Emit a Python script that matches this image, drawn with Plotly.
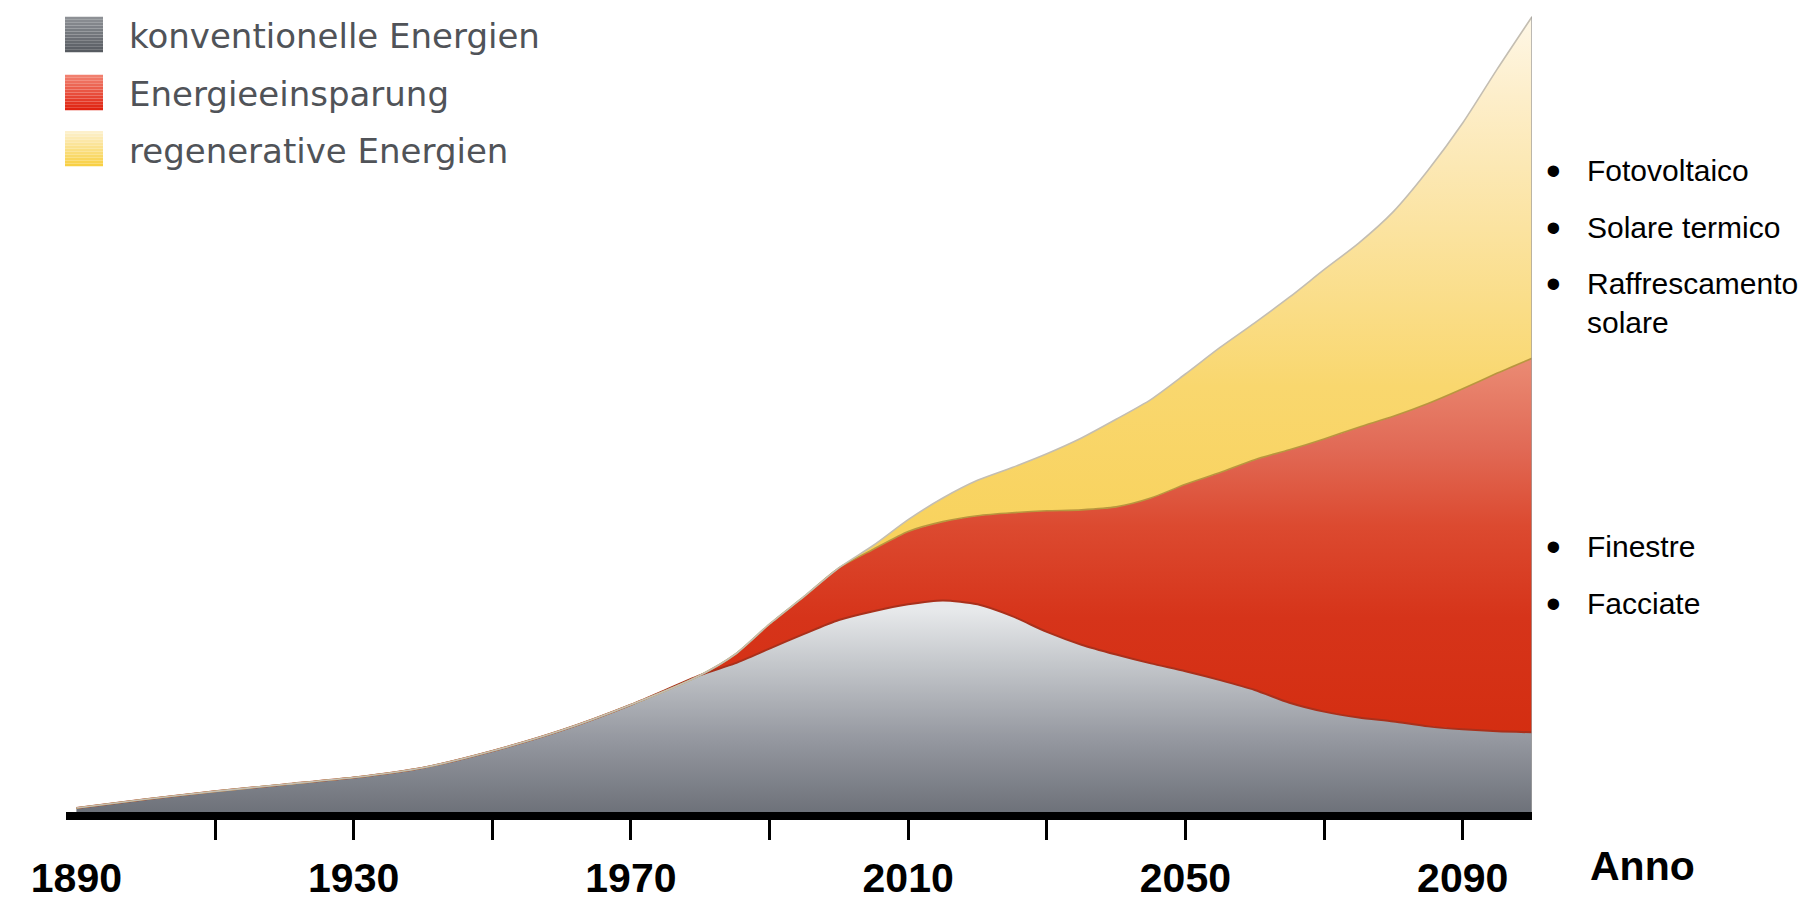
import plotly.graph_objects as go

# ---- data: stacked energy demand (relative units) ----
years = [1890, 1900, 1910, 1920, 1930, 1940, 1950, 1960, 1970, 1980,
         1985, 1990, 1995, 2000, 2005, 2010, 2015, 2020, 2025, 2030,
         2035, 2040, 2045, 2050, 2055, 2060, 2065, 2070, 2075, 2080,
         2085, 2090, 2095, 2100]
konventionell = [4, 13, 21, 28, 35, 45, 62, 83, 109, 139,
                 151, 166, 181, 195, 204, 211, 215, 211, 199, 183,
                 170, 160, 151, 143, 134, 124, 111, 102, 96, 92,
                 87, 84, 82, 81]
einsparung = [0, 0, 0, 0, 0, 0, 0, 0, 0, 0,
              9, 25, 38, 53, 63, 74, 80, 90, 105, 123,
              137, 150, 168, 190, 211, 234, 257, 277, 295, 310,
              328, 346, 364, 380]
regenerativ = [0, 0, 0, 0, 0, 0, 0, 0, 0, 0,
               0, 0, 0, 0, 4, 12, 24, 36, 46, 58,
               73, 89, 100, 112, 127, 139, 155, 172, 187, 208,
               237, 270, 309, 347]

series_names = ["konventionelle Energien", "Energieeinsparung", "regenerative Energien"]

tick_years = [1910, 1930, 1950, 1970, 1990, 2010, 2030, 2050, 2070, 2090]
label_years = [1890, 1930, 1970, 2010, 2050, 2090]
label_text = ["1890", "1930", "1970", "2010", "2050", "2090"]
axis_title = "Anno"

bullets_renewable = ["Fotovoltaico", "Solare termico", "Raffrescamento<br>solare"]
bullets_saving = ["Finestre", "Facciate"]

# ---- page geometry ----
W, H = 1814, 901
L, R, T, B = 66, 282, 0, 76
PW, PH = W - L - R, H - T - B


def px(xp):
    return (xp - L) / PW


def py(yp):
    return (H - B - yp) / PH


gray_scale = [[0.0, "#676b73"], [0.4, "#9598a0"], [0.75, "#c4c7cb"], [1.0, "#e7e9eb"]]
red_scale = [[0.0, "#d2290a"], [0.45, "#d6341a"], [0.65, "#dc4a30"], [0.82, "#e16a56"], [1.0, "#ea8972"]]
yellow_scale = [[0.0, "#f8d25c"], [0.3, "#f9d76e"], [0.6, "#fbe3a0"], [0.85, "#fdeeca"], [1.0, "#fef7e6"]]

totals = [a + b + c for a, b, c in zip(konventionell, einsparung, regenerativ)]
red_tops = [a + b for a, b in zip(konventionell, einsparung)]

fig = go.Figure()

fig.add_trace(go.Scatter(
    x=years, y=konventionell, name=series_names[0], stackgroup="e",
    mode="lines", line=dict(shape="spline", smoothing=0.7, color="#a9301b", width=2),
    fillgradient=dict(type="vertical", start=0, stop=max(konventionell), colorscale=gray_scale),
    hoverinfo="skip"))
fig.add_trace(go.Scatter(
    x=years, y=einsparung, name=series_names[1], stackgroup="e",
    mode="lines", line=dict(shape="spline", smoothing=0.7, color="#b8963e", width=1.6),
    fillgradient=dict(type="vertical", start=0, stop=max(red_tops), colorscale=red_scale),
    hoverinfo="skip"))
fig.add_trace(go.Scatter(
    x=years, y=regenerativ, name=series_names[2], stackgroup="e",
    mode="lines", line=dict(shape="spline", smoothing=0.7, color="#c4beb2", width=1.6),
    fillgradient=dict(type="vertical", start=280, stop=max(totals), colorscale=yellow_scale),
    hoverinfo="skip"))

# soft edge on the right end of the stack
fig.add_trace(go.Scatter(
    x=[years[-1], years[-1]], y=[0, totals[-1]], xaxis="x2", mode="lines",
    line=dict(color="rgba(160,160,160,0.7)", width=2), hoverinfo="skip", showlegend=False))

fig.update_layout(
    width=W, height=H,
    margin=dict(l=L, r=R, t=T, b=B),
    plot_bgcolor="white", paper_bgcolor="white",
    showlegend=False,
    xaxis=dict(
        range=[1888.5, 2100], showgrid=False, zeroline=False,
        showline=True, linewidth=8, linecolor="black",
        tickmode="array", tickvals=tick_years, ticks="outside",
        ticklen=20, tickwidth=2.5, tickcolor="black", showticklabels=False),
    xaxis2=dict(
        overlaying="x", matches="x", anchor="y", side="bottom",
        showgrid=False, zeroline=False, showline=False,
        tickmode="array", tickvals=label_years, ticktext=label_text, ticks="",
        ticklabelstandoff=38,
        tickfont=dict(family="Liberation Sans", size=41, color="black", weight="bold")),
    yaxis=dict(range=[0, PH], visible=False, fixedrange=True),
)

annotations = []
# axis title at the right end of the time axis
annotations.append(dict(
    x=px(1642), y=py(880), xref="paper", yref="paper", text=axis_title,
    showarrow=False, xanchor="center", yanchor="middle",
    font=dict(family="Liberation Sans", size=41, color="black", weight="bold")))

# legend block
swatch_rows = [35, 94, 151]
swatch_cols = [
    ["#8f9297", "#55595f"],
    ["#f28473", "#df1f0c"],
    ["#fdf1d2", "#f8cf3e"],
]
shapes = []


def mix(c1, c2, t):
    a = [int(c1[i:i + 2], 16) for i in (1, 3, 5)]
    b = [int(c2[i:i + 2], 16) for i in (1, 3, 5)]
    return "#" + "".join(f"{round(a[k] + (b[k] - a[k]) * t):02x}" for k in range(3))


for row, (ctop, cbot), name in zip(swatch_rows, swatch_cols, series_names):
    top, bot = row - 18, row + 18
    n = 12
    for k in range(n):
        y0 = top + (bot - top) * k / n
        y1 = top + (bot - top) * (k + 1) / n
        shapes.append(dict(
            type="rect", xref="paper", yref="paper",
            x0=px(65), x1=px(103), y0=py(y1), y1=py(y0),
            fillcolor=mix(ctop, cbot, (k + 0.5) / n), line=dict(width=0), layer="above"))
    annotations.append(dict(
        x=px(127), y=py(row + 2), xref="paper", yref="paper", text=name,
        showarrow=False, xanchor="left", yanchor="middle",
        font=dict(family="DejaVu Sans", size=34, color="#505358")))

# bullet lists beside the stack
bullet_rows_renew = [170, 228, 285]
bullet_rows_save = [552, 610]
for rows, items in ((bullet_rows_renew, bullets_renewable), (bullet_rows_save, bullets_saving)):
    for yy, txt in zip(rows, items):
        annotations.append(dict(
            x=px(1553), y=py(yy + 3), xref="paper", yref="paper", text="•",
            showarrow=False, xanchor="center", yanchor="middle",
            font=dict(family="Liberation Sans", size=42, color="black")))
        annotations.append(dict(
            x=px(1585), y=py(yy - 16), xref="paper", yref="paper",
            text=txt, showarrow=False, xanchor="left", yanchor="top", align="left",
            font=dict(family="Liberation Sans", size=30, color="black")))

fig.update_layout(annotations=annotations, shapes=shapes)

fig.write_html("out.html")
